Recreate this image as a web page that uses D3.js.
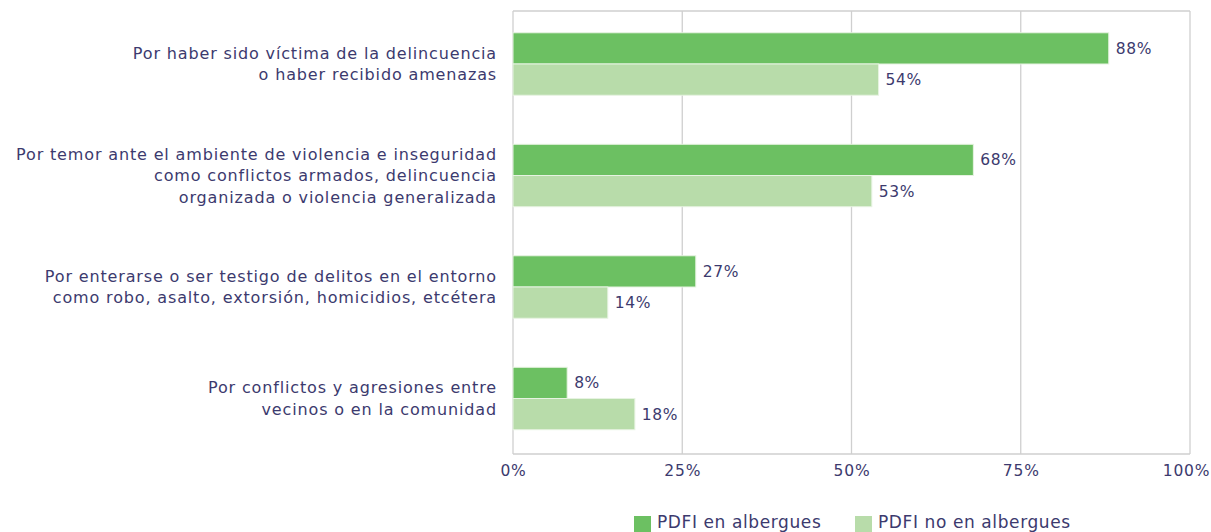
<!DOCTYPE html>
<html>
<head>
<meta charset="utf-8">
<script src="https://cdn.jsdelivr.net/npm/d3@7"></script>
<style>
  html, body { margin: 0; padding: 0; background: #ffffff; }
  svg { display: block; }
  text { font-family: "DejaVu Sans", sans-serif; fill: #3c3a6e; }
</style>
</head>
<body>
<svg id="chart" width="1211" height="532"></svg>
<script>
const categories = [
  ["Por haber sido víctima de la delincuencia", "o haber recibido amenazas"],
  ["Por temor ante el ambiente de violencia e inseguridad", "como conflictos armados, delincuencia", "organizada o violencia generalizada"],
  ["Por enterarse o ser testigo de delitos en el entorno", "como robo, asalto, extorsión, homicidios, etcétera"],
  ["Por conflictos y agresiones entre", "vecinos o en la comunidad"]
];
const seriesNames = ["PDFI en albergues", "PDFI no en albergues"];
const enAlbergues = [88, 68, 27, 8];
const noEnAlbergues = [54, 53, 14, 18];
const tickValues = [0, 25, 50, 75, 100];
const colors = ["#6cc062", "#b8dcaa"];

const svg = d3.select("#chart");
const plotLeft = 513, plotRight = 1190, plotTop = 11, plotBottom = 454;

const x = d3.scaleLinear().domain([0, 100]).range([plotLeft, plotRight]);
const y0 = d3.scaleBand().domain(d3.range(categories.length))
  .range([8.25, 454.25]).paddingInner(0.44).paddingOuter(0.22);
const y1 = d3.scaleBand().domain([0, 1]).range([0, y0.bandwidth()]);

// grid & frame
const g = svg.append("g");
g.selectAll("line.grid").data(tickValues).join("line")
  .attr("x1", d => x(d)).attr("x2", d => x(d))
  .attr("y1", plotTop).attr("y2", plotBottom)
  .attr("stroke", "#cfcfcf").attr("stroke-width", 1.3);
g.append("line").attr("x1", plotLeft).attr("x2", plotRight).attr("y1", plotTop).attr("y2", plotTop)
  .attr("stroke", "#cfcfcf").attr("stroke-width", 1.3);
g.append("line").attr("x1", plotLeft).attr("x2", plotRight).attr("y1", plotBottom).attr("y2", plotBottom)
  .attr("stroke", "#cfcfcf").attr("stroke-width", 1.3);

// x axis labels
const xAxis = d3.axisBottom(x).tickValues(tickValues).tickFormat(d => d + "%").tickSize(0).tickPadding(11);
const ax = svg.append("g").attr("transform", `translate(0,${plotBottom})`).call(xAxis);
ax.select(".domain").remove();
ax.selectAll("text")
  .style("font-family", '"DejaVu Sans", sans-serif').style("font-size", "15.5px")
  .style("letter-spacing", "0.8px").attr("fill", "#3c3a6e")
  .attr("dx", d => d === 100 ? -4 : 0);

// bars
const series = [enAlbergues, noEnAlbergues];
series.forEach((vals, si) => {
  svg.append("g").selectAll("rect").data(vals).join("rect")
    .attr("x", x(0))
    .attr("y", (d, i) => y0(i) + y1(si))
    .attr("width", d => x(d) - x(0))
    .attr("height", y1.bandwidth())
    .attr("fill", colors[si])
    .attr("stroke", "#e6f3e1").attr("stroke-width", 1);
  svg.append("g").selectAll("text").data(vals).join("text")
    .attr("x", d => x(d) + 7)
    .attr("y", (d, i) => y0(i) + y1(si) + y1.bandwidth() / 2)
    .attr("dy", "0.35em")
    .style("font-size", "15.5px")
    .style("letter-spacing", "0.6px")
    .text(d => d + "%");
});

// category labels
categories.forEach((lines, i) => {
  const cy = y0(i) + y0.bandwidth() / 2;
  const lh = 21.5;
  const t = svg.append("text").attr("text-anchor", "end")
    .style("font-size", "16px").style("letter-spacing", "0.85px");
  lines.forEach((ln, j) => {
    t.append("tspan").attr("x", 497)
      .attr("y", cy + (j - (lines.length - 1) / 2) * lh)
      .attr("dy", "0.35em").text(ln);
  });
});

// legend
const legendX = [634, 855];
seriesNames.forEach((name, i) => {
  svg.append("rect").attr("x", legendX[i]).attr("y", 516).attr("width", 17).attr("height", 17).attr("fill", colors[i]);
  svg.append("text").attr("x", legendX[i] + 23).attr("y", 528)
    .style("font-size", "17px").style("letter-spacing", "0.6px").text(name);
});
</script>
</body>
</html>
